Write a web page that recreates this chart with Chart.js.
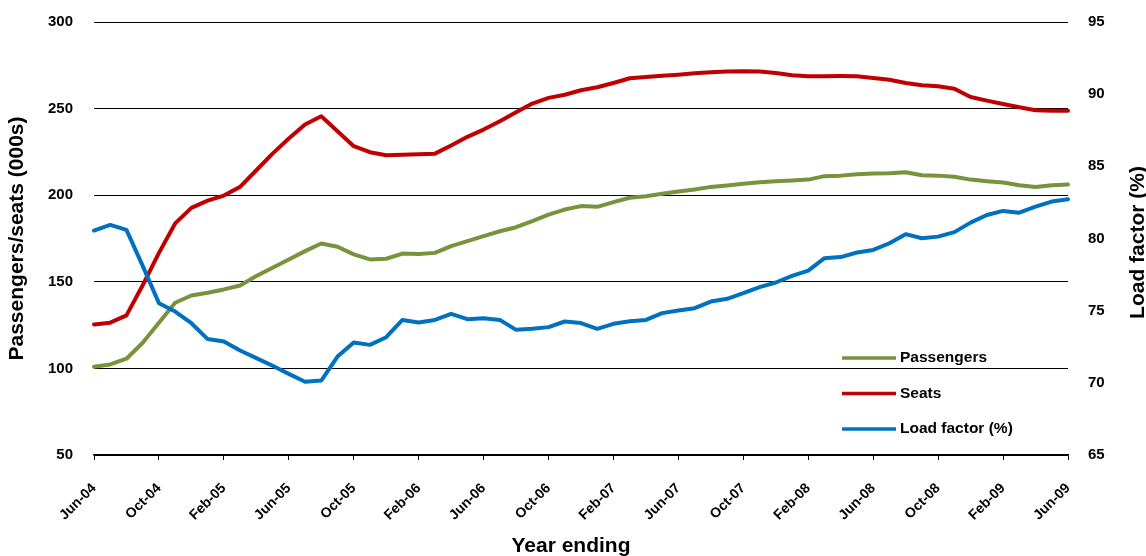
<!DOCTYPE html>
<html>
<head>
<meta charset="utf-8">
<script src="https://cdn.jsdelivr.net/npm/chart.js@4.4.1/dist/chart.umd.min.js"></script>
<style>
  html, body { margin: 0; padding: 0; background: #ffffff; }
  #wrap { width: 1146px; height: 556px; }
</style>
</head>
<body>
<div id="wrap"><canvas id="c" width="1146" height="556"></canvas></div>
<script>
const months = [
  "Jun-04","Jul-04","Aug-04","Sep-04","Oct-04","Nov-04","Dec-04","Jan-05","Feb-05","Mar-05","Apr-05","May-05",
  "Jun-05","Jul-05","Aug-05","Sep-05","Oct-05","Nov-05","Dec-05","Jan-06","Feb-06","Mar-06","Apr-06","May-06",
  "Jun-06","Jul-06","Aug-06","Sep-06","Oct-06","Nov-06","Dec-06","Jan-07","Feb-07","Mar-07","Apr-07","May-07",
  "Jun-07","Jul-07","Aug-07","Sep-07","Oct-07","Nov-07","Dec-07","Jan-08","Feb-08","Mar-08","Apr-08","May-08",
  "Jun-08","Jul-08","Aug-08","Sep-08","Oct-08","Nov-08","Dec-08","Jan-09","Feb-09","Mar-09","Apr-09","May-09",
  "Jun-09"
];

const passengers = [
  101.0,102.3,105.6,114.8,126.4,137.9,142.1,143.7,145.6,147.9,153.3,158.1,
  162.9,167.7,172.1,170.2,165.8,162.9,163.3,166.3,166.0,166.7,170.6,173.5,
  176.4,179.2,181.5,185.0,188.8,191.7,193.7,193.3,196.0,198.5,199.4,200.8,
  202.1,203.3,204.8,205.6,206.6,207.5,208.1,208.5,209.0,211.0,211.3,212.1,
  212.5,212.7,213.3,211.5,211.3,210.6,209.0,208.1,207.3,205.8,204.8,205.8,
  206.2
];

const seats = [
  125.4,126.4,130.6,148.0,166.7,183.7,192.7,196.9,199.8,204.8,214.4,224.0,
  232.7,240.8,245.6,236.9,228.3,224.8,223.1,223.3,223.6,224.0,228.7,233.7,
  237.9,242.7,247.9,252.9,256.2,258.0,260.6,262.3,264.8,267.5,268.3,268.9,
  269.6,270.4,271.0,271.4,271.6,271.4,270.6,269.2,268.7,268.7,268.8,268.7,
  267.7,266.7,264.8,263.5,262.9,261.5,256.7,254.6,252.7,250.8,249.0,248.8,
  248.8
];

const loadFactor = [
  80.55,80.94,80.60,78.10,75.52,74.94,74.13,73.03,72.86,72.24,71.71,71.18,
  70.62,70.07,70.16,71.82,72.79,72.63,73.16,74.36,74.18,74.36,74.78,74.41,
  74.48,74.36,73.67,73.74,73.86,74.25,74.14,73.74,74.09,74.27,74.36,74.83,
  75.01,75.17,75.63,75.82,76.21,76.63,76.95,77.41,77.78,78.64,78.71,79.03,
  79.21,79.67,80.30,80.02,80.13,80.44,81.10,81.63,81.91,81.79,82.21,82.56,
  82.72
];

const seriesNames = ["Passengers", "Seats", "Load factor (%)"];
const seriesColors = ["#77933C", "#C00000", "#0070C0"];
const leftTitle = "Passengers/seats (000s)";
const rightTitle = "Load factor (%)";
const xTitle = "Year ending";

const FONT = "'Liberation Sans', Arial, sans-serif";

const customDraw = {
  id: 'customDraw',
  afterDraw(chart) {
    const ctx = chart.ctx;
    const area = chart.chartArea;
    ctx.save();
    ctx.font = "bold 21px " + FONT;
    ctx.fillStyle = "#000";
    ctx.textAlign = "center";
    ctx.textBaseline = "middle";
    // x axis title
    ctx.fillText(xTitle, (area.left + area.right) / 2 - 10, 546);
    // right axis title, reading bottom-to-top
    ctx.translate(1138, (area.top + area.bottom) / 2 + 4);
    ctx.rotate(-Math.PI / 2);
    ctx.fillText(rightTitle, 0, 0);
    ctx.restore();

    // legend inside plot
    ctx.save();
    const ds = chart.data.datasets;
    const x0 = area.right - 226;
    const rows = [area.bottom - 97, area.bottom - 61.5, area.bottom - 26];
    ctx.font = "bold 15.5px " + FONT;
    ctx.textAlign = "left";
    ctx.textBaseline = "middle";
    ds.forEach((d, i) => {
      ctx.strokeStyle = d.borderColor;
      ctx.lineWidth = 3.5;
      ctx.beginPath();
      ctx.moveTo(x0, rows[i]);
      ctx.lineTo(x0 + 54, rows[i]);
      ctx.stroke();
      ctx.fillStyle = "#000";
      ctx.fillText(d.label, x0 + 58, rows[i]);
    });
    ctx.restore();
  }
};

new Chart(document.getElementById('c'), {
  type: 'line',
  data: {
    labels: months,
    datasets: [
      { label: seriesNames[0], data: passengers, borderColor: seriesColors[0], yAxisID: 'y', order: 3 },
      { label: seriesNames[1], data: seats, borderColor: seriesColors[1], yAxisID: 'y', order: 2 },
      { label: seriesNames[2], data: loadFactor, borderColor: seriesColors[2], yAxisID: 'y1', order: 1 }
    ]
  },
  options: {
    responsive: false,
    animation: false,
    devicePixelRatio: 1,
    layout: { padding: { top: 22, left: 0, right: 0, bottom: 0 } },
    elements: {
      line: { borderWidth: 4, tension: 0, borderCapStyle: 'round', borderJoinStyle: 'round' },
      point: { radius: 0, hoverRadius: 0 }
    },
    plugins: {
      legend: { display: false },
      tooltip: { enabled: false },
      title: { display: false }
    },
    scales: {
      x: {
        type: 'category',
        offset: false,
        afterBuildTicks(scale) {
          scale.ticks = scale.ticks.filter(t => t.value % 4 === 0);
        },
        afterFit(scale) { scale.height = 101; },
        grid: { display: true, drawOnChartArea: false, drawTicks: true, tickLength: 5, color: '#000', lineWidth: 1 },
        border: { display: true, color: '#000', width: 1.5 },
        ticks: {
          autoSkip: false, maxRotation: 45, minRotation: 45, padding: 20,
          color: '#000', font: { family: FONT, size: 14, weight: 'bold' }
        }
      },
      y: {
        position: 'left',
        min: 50, max: 300,
        afterFit(scale) { scale.width = 94; scale.paddingTop = 0; scale.paddingBottom = 0; },
        grid: { color: '#000', lineWidth: 1, drawTicks: false },
        border: { display: false },
        ticks: {
          stepSize: 50, padding: 21, color: '#000',
          font: { family: FONT, size: 15, weight: 'bold' }
        },
        title: {
          display: true, text: leftTitle, color: '#000',
          font: { family: FONT, size: 21, weight: 'bold', lineHeight: 1 },
          padding: { top: 7, bottom: 0 }
        }
      },
      y1: {
        position: 'right',
        min: 65, max: 95,
        afterFit(scale) { scale.width = 78; scale.paddingTop = 0; scale.paddingBottom = 0; },
        grid: { display: false, drawTicks: false },
        border: { display: false },
        ticks: {
          stepSize: 5, padding: 20, color: '#000',
          font: { family: FONT, size: 15, weight: 'bold' }
        }
      }
    }
  },
  plugins: [customDraw]
});
</script>
</body>
</html>
